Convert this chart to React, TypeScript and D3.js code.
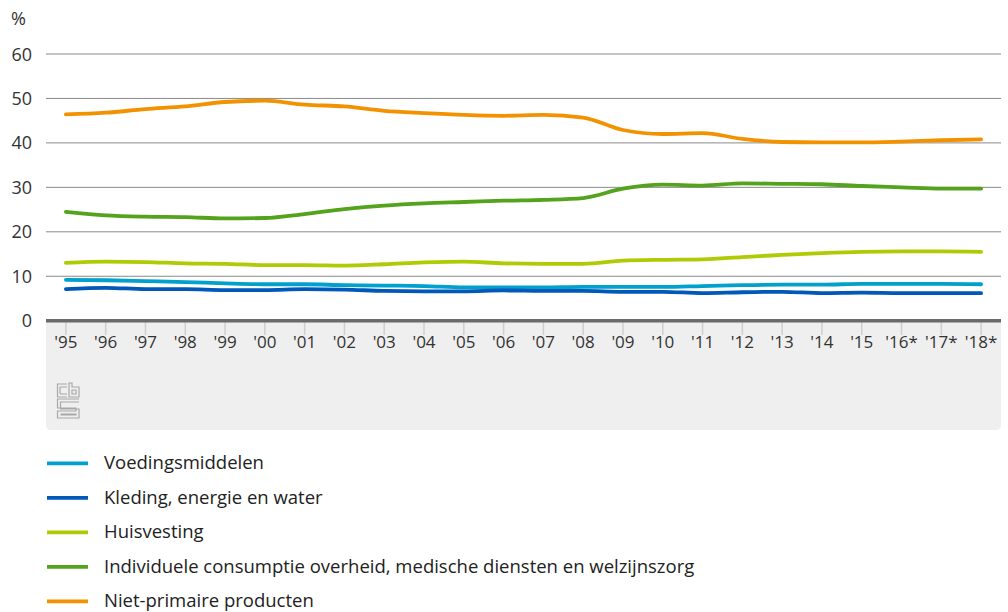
import React from "react";
import { scalePoint, scaleLinear, line, curveMonotoneX } from "d3";

// jaren (x-as)
const years = [
  "'95", "'96", "'97", "'98", "'99", "'00", "'01", "'02", "'03", "'04", "'05", "'06",
  "'07", "'08", "'09", "'10", "'11", "'12", "'13", "'14", "'15", "'16*", "'17*", "'18*",
];

const voedingsmiddelen = [9.2, 9.1, 8.9, 8.7, 8.4, 8.2, 8.2, 8.0, 7.9, 7.8, 7.5, 7.5, 7.5, 7.6, 7.6, 7.6, 7.8, 8.0, 8.1, 8.1, 8.3, 8.3, 8.3, 8.2];
const kleding = [7.1, 7.4, 7.1, 7.1, 6.9, 6.9, 7.1, 7.0, 6.7, 6.6, 6.6, 6.8, 6.7, 6.7, 6.5, 6.5, 6.2, 6.4, 6.5, 6.2, 6.3, 6.2, 6.2, 6.2];
const huisvesting = [13.0, 13.3, 13.2, 12.9, 12.8, 12.5, 12.5, 12.4, 12.7, 13.1, 13.3, 12.9, 12.8, 12.8, 13.5, 13.7, 13.8, 14.3, 14.8, 15.2, 15.5, 15.6, 15.6, 15.5];
const individueel = [24.5, 23.7, 23.4, 23.3, 23.0, 23.1, 24.0, 25.1, 25.9, 26.4, 26.7, 27.0, 27.2, 27.6, 29.7, 30.6, 30.4, 30.9, 30.8, 30.7, 30.3, 30.0, 29.7, 29.7];
const nietPrimair = [46.4, 46.8, 47.6, 48.2, 49.2, 49.5, 48.6, 48.2, 47.2, 46.7, 46.3, 46.1, 46.3, 45.7, 42.9, 42.0, 42.2, 40.9, 40.2, 40.1, 40.1, 40.3, 40.6, 40.8];

const yTicks = [0, 10, 20, 30, 40, 50, 60];

const series = [
  { name: "Voedingsmiddelen", values: voedingsmiddelen, color: "#00a1cd" },
  { name: "Kleding, energie en water", values: kleding, color: "#0058b8" },
  { name: "Huisvesting", values: huisvesting, color: "#afcb05" },
  { name: "Individuele consumptie overheid, medische diensten en welzijnszorg", values: individueel, color: "#53a31d" },
  { name: "Niet-primaire producten", values: nietPrimair, color: "#f39200" },
];

const W = 1008;
const H = 612;
const left = 46;
const right = 1001;
const font = "'Open Sans', sans-serif";

export default function App() {
  const x = scalePoint<string>().domain(years).range([left, right]).padding(0.5);
  const y = scaleLinear().domain([0, 60]).range([320.7, 54]);
  const lineGen = line<number>()
    .x((_, i) => x(years[i]) as number)
    .y((d) => y(d))
    .curve(curveMonotoneX);

  const panelTop = 322;
  const panelBottom = 430;
  const r = 5;
  const panel = `M${left},${panelTop} H${right} V${panelBottom - r} Q${right},${panelBottom} ${right - r},${panelBottom} H${left + r} Q${left},${panelBottom} ${left},${panelBottom - r} Z`;

  return (
    <svg width={W} height={H} style={{ position: "absolute", left: 0, top: 0 }} fontFamily={font}>
      <rect width={W} height={H} fill="#fff" />
      <text x={11} y={25} fontSize={18} fill="#333">%</text>

      {/* rasterlijnen */}
      {yTicks.filter((t) => t > 0).map((t) => (
        <line key={t} x1={left} x2={right} y1={y(t)} y2={y(t)} stroke="#8a8a8a" strokeWidth={1} />
      ))}
      {yTicks.map((t) => (
        <text key={t} x={32} y={y(t) + 6.5} fontSize={18} fill="#333" textAnchor="end">{t}</text>
      ))}

      {/* grijs vlak onder de as */}
      <path d={panel} fill="#efefef" />
      {years.map((yr) => (
        <line key={yr} x1={x(yr)} x2={x(yr)} y1={panelTop} y2={335} stroke="#cfcfcf" strokeWidth={1.5} />
      ))}
      {years.map((yr) => (
        <text key={yr} x={x(yr)} y={348} fontSize={17} fill="#333" textAnchor="middle">{yr}</text>
      ))}
      <line x1={left} x2={right} y1={320.7} y2={320.7} stroke="#6b6b6b" strokeWidth={3.5} />

      {/* cbs logo */}
      <g fill="none" stroke="#a8a8a8" strokeWidth={1.2}>
        <path d="M67,384 H57.5 V397 H67 M60,387 H67 M60,394 H67 M60,387 V394" />
        <path d="M69,383 V397 H79 V387 H72 V383 Z M72,390 H76 V394 H72 Z" />
        <path d="M79,399 H57.5 V408 H76 V411 H57.5 V418 H79 V409 H60.5 V402 H79 M60.5,414 H76 V415 H60.5" />
      </g>

      {/* lijnen */}
      {series.map((s) => (
        <path key={s.name} d={lineGen(s.values) || ""} fill="none" stroke={s.color} strokeWidth={3.8} strokeLinecap="round" strokeLinejoin="round" />
      ))}

      {/* legenda */}
      {series.map((s, i) => {
        const ly = 463.3 + i * 34.5;
        return (
          <g key={s.name}>
            <line x1={47} x2={88} y1={ly} y2={ly} stroke={s.color} strokeWidth={3.8} />
            <text x={104} y={ly + 6} fontSize={18.5} fill="#222">{s.name}</text>
          </g>
        );
      })}
    </svg>
  );
}
